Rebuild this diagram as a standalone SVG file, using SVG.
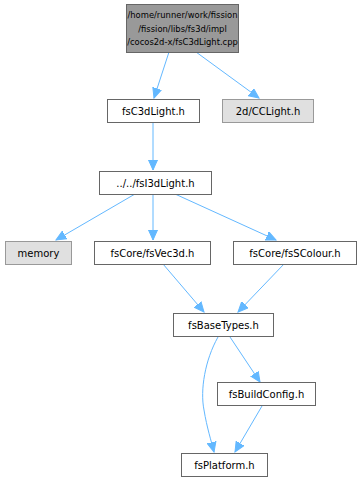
<svg xmlns="http://www.w3.org/2000/svg" width="363" height="481" viewBox="0 0 363 481">
<style>
  .box { fill: #ffffff; stroke: #666666; stroke-width: 1; }
  .ext { fill: #e0e0e0; stroke: #999999; stroke-width: 1; }
  .root { fill: #999999; stroke: #666666; stroke-width: 1; }
  text { font-family: "DejaVu Sans", sans-serif; font-size: 10px; fill: #000000; text-anchor: middle; }
  .small { font-size: 8.4px; }
  .edge { fill: none; stroke: #63b8ff; stroke-width: 1; marker-end: url(#arrow); }
</style>
<defs>
  <marker id="arrow" markerUnits="userSpaceOnUse" markerWidth="11" markerHeight="10" refX="10" refY="5" orient="auto">
    <path d="M0,0.5 L10,5 L0,9.5 z" fill="#63b8ff" stroke="#63b8ff" stroke-width="1"/>
  </marker>
</defs>
<rect width="363" height="481" fill="#ffffff"/>
<g id="connectors">
  <path class="edge" d="M169,52 L154,98"/>
  <path class="edge" d="M196,52 L259,98"/>
  <path class="edge" d="M153,122 L153,170"/>
  <path class="edge" d="M135,194 L56,240"/>
  <path class="edge" d="M153,194 L153,240"/>
  <path class="edge" d="M175,194 L276,240"/>
  <path class="edge" d="M163,264 L204,312"/>
  <path class="edge" d="M284,264 L238,312"/>
  <path class="edge" d="M230,337 L260,382"/>
  <path class="edge" d="M218,337 C205,360 200,390 204,410 C207,428 211,440 214,452"/>
  <path class="edge" d="M262,406 L235,452"/>
</g>
<g id="node-root">
  <rect class="root" x="126.5" y="4.5" width="112" height="48"/>
  <text class="small" x="182.5" y="18">/home/runner/work/fission</text>
  <text class="small" x="182.5" y="31.5">/fission/libs/fs3d/impl</text>
  <text class="small" x="182.5" y="45">/cocos2d-x/fsC3dLight.cpp</text>
</g>
<g id="node-fsC3dLight">
  <rect class="box" x="107.5" y="99.5" width="92" height="23"/>
  <text x="153.5" y="114.5">fsC3dLight.h</text>
</g>
<g id="node-CCLight">
  <rect class="ext" x="222.5" y="99.5" width="91" height="23"/>
  <text x="268" y="114.5">2d/CCLight.h</text>
</g>
<g id="node-fsI3dLight">
  <rect class="box" x="99.5" y="171.5" width="112" height="23"/>
  <text x="155.5" y="186.5">../../fsI3dLight.h</text>
</g>
<g id="node-memory">
  <rect class="ext" x="5.5" y="241.5" width="66" height="23"/>
  <text x="38.5" y="256.5">memory</text>
</g>
<g id="node-fsVec3d">
  <rect class="box" x="94.5" y="241.5" width="116" height="23"/>
  <text x="152.5" y="256.5">fsCore/fsVec3d.h</text>
</g>
<g id="node-fsSColour">
  <rect class="box" x="233.5" y="241.5" width="123" height="23"/>
  <text x="295" y="256.5">fsCore/fsSColour.h</text>
</g>
<g id="node-fsBaseTypes">
  <rect class="box" x="173.5" y="313.5" width="100" height="23"/>
  <text x="223.5" y="328.5">fsBaseTypes.h</text>
</g>
<g id="node-fsBuildConfig">
  <rect class="box" x="217.5" y="382.5" width="98" height="23"/>
  <text x="266.5" y="397.5">fsBuildConfig.h</text>
</g>
<g id="node-fsPlatform">
  <rect class="box" x="181.5" y="453.5" width="86" height="23"/>
  <text x="224.5" y="468.5">fsPlatform.h</text>
</g>
</svg>
